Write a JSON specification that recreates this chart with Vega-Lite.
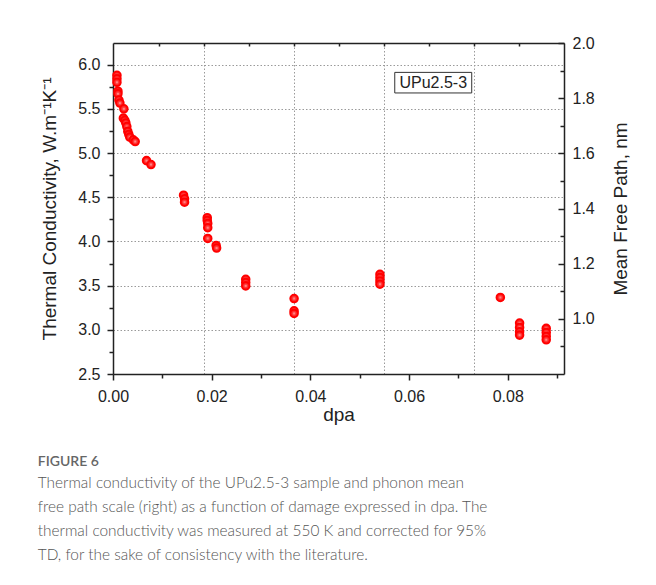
{
  "$schema": "https://vega.github.io/schema/vega-lite/v6.json",
  "width": 451,
  "height": 331,
  "autosize": {"type": "none"},
  "padding": {"left": 113, "top": 43, "right": 92, "bottom": 211},
  "background": "white",
  "config": {
    "view": {"stroke": null},
    "axis": {
      "labelFont": "Liberation Sans",
      "titleFont": "Liberation Sans",
      "labelFontSize": 16,
      "titleFontSize": 19,
      "labelColor": "#222",
      "titleColor": "#222",
      "titleFontWeight": "normal",
      "domainColor": "#222",
      "domainWidth": 1.5,
      "tickColor": "#222",
      "tickWidth": 1.5,
      "gridColor": "#9a9a9a",
      "gridDash": [1.5, 2],
      "gridWidth": 1,
      "labelOverlap": false,
      "labelBound": false,
      "labelFlush": false
    }
  },
  "title": {
    "text": "FIGURE 6",
    "subtitle": [
      "Thermal conductivity of the UPu2.5-3 sample and phonon mean",
      "free path scale (right) as a function of damage expressed in dpa. The",
      "thermal conductivity was measured at 550 K and corrected for 95%",
      "TD, for the sake of consistency with the literature."
    ],
    "orient": "bottom",
    "anchor": "start",
    "frame": "bounds",
    "font": "Lato",
    "fontSize": 14,
    "fontWeight": 600,
    "color": "#666",
    "subtitleFont": "Lato",
    "subtitleFontSize": 15.4,
    "subtitleFontWeight": 300,
    "subtitleColor": "#555",
    "subtitleLineHeight": 24,
    "subtitlePadding": 7,
    "offset": 31,
    "dx": -3
  },
  "layer": [
    {
      "data": {
        "values": [
          {"dpa": 0.0008, "k": 5.88}, {"dpa": 0.0008, "k": 5.84}, {"dpa": 0.0008, "k": 5.80},
          {"dpa": 0.0010, "k": 5.70}, {"dpa": 0.0010, "k": 5.67}, {"dpa": 0.0012, "k": 5.60},
          {"dpa": 0.0014, "k": 5.565}, {"dpa": 0.0022, "k": 5.50}, {"dpa": 0.0021, "k": 5.395},
          {"dpa": 0.0024, "k": 5.37}, {"dpa": 0.0026, "k": 5.34}, {"dpa": 0.0028, "k": 5.30},
          {"dpa": 0.0030, "k": 5.245}, {"dpa": 0.0032, "k": 5.21}, {"dpa": 0.0034, "k": 5.18},
          {"dpa": 0.0041, "k": 5.15}, {"dpa": 0.0045, "k": 5.13},
          {"dpa": 0.0068, "k": 4.914}, {"dpa": 0.0077, "k": 4.87},
          {"dpa": 0.0143, "k": 4.523}, {"dpa": 0.0145, "k": 4.482}, {"dpa": 0.0145, "k": 4.444},
          {"dpa": 0.0191, "k": 4.268}, {"dpa": 0.0191, "k": 4.237}, {"dpa": 0.0192, "k": 4.203},
          {"dpa": 0.0192, "k": 4.155}, {"dpa": 0.0192, "k": 4.034},
          {"dpa": 0.0209, "k": 3.955}, {"dpa": 0.0210, "k": 3.925},
          {"dpa": 0.0269, "k": 3.572}, {"dpa": 0.0269, "k": 3.535}, {"dpa": 0.0269, "k": 3.497},
          {"dpa": 0.0367, "k": 3.354}, {"dpa": 0.0367, "k": 3.214}, {"dpa": 0.0367, "k": 3.185},
          {"dpa": 0.0541, "k": 3.628}, {"dpa": 0.0541, "k": 3.591}, {"dpa": 0.0541, "k": 3.553}, {"dpa": 0.0541, "k": 3.516},
          {"dpa": 0.0785, "k": 3.366},
          {"dpa": 0.0824, "k": 3.076}, {"dpa": 0.0824, "k": 3.027}, {"dpa": 0.0824, "k": 2.978}, {"dpa": 0.0824, "k": 2.94},
          {"dpa": 0.0878, "k": 3.016}, {"dpa": 0.0878, "k": 2.97}, {"dpa": 0.0878, "k": 2.926}, {"dpa": 0.0878, "k": 2.887}
        ]
      },
      "mark": {
        "type": "point",
        "shape": "circle",
        "filled": true,
        "size": 60,
        "opacity": 1,
        "strokeWidth": 1.8,
        "stroke": "#ff0000",
        "fill": {
          "gradient": "radial",
          "x1": 0.5, "y1": 0.5, "x2": 0.5, "y2": 0.5, "r1": 0, "r2": 0.5,
          "stops": [
            {"offset": 0, "color": "#ffd6d6"},
            {"offset": 0.3, "color": "#ff4a4a"},
            {"offset": 1, "color": "#ff0000"}
          ]
        }
      },
      "encoding": {
        "x": {
          "field": "dpa",
          "type": "quantitative",
          "scale": {"domain": [0, 0.0914], "nice": false, "zero": false},
          "axis": {
            "orient": "bottom",
            "values": [0, 0.01, 0.02, 0.03, 0.04, 0.05, 0.06, 0.07, 0.08, 0.09],
            "grid": false,
            "tickSize": {"condition": {"test": "round(datum.value*100)%2==0", "value": 6}, "value": 4},
            "labelExpr": "round(datum.value*100)%2==0 ? format(datum.value, '.2f') : ''",
            "labelPadding": 8,
            "title": "dpa",
            "titlePadding": 1
          }
        },
        "y": {
          "field": "k",
          "type": "quantitative",
          "scale": {"domain": [2.5, 6.245], "nice": false, "zero": false},
          "axis": {
            "orient": "left",
            "values": [2.5, 2.75, 3.0, 3.25, 3.5, 3.75, 4.0, 4.25, 4.5, 4.75, 5.0, 5.25, 5.5, 5.75, 6.0],
            "grid": true,
            "gridOpacity": {"condition": {"test": "round(datum.value*4)%2==0", "value": 1}, "value": 0},
            "tickSize": {"condition": {"test": "round(datum.value*4)%2==0", "value": 6}, "value": 4},
            "labelExpr": "round(datum.value*4)%2==0 ? format(datum.value, '.1f') : ''",
            "labelPadding": 7,
            "title": "Thermal Conductivity, W.m⁻¹K⁻¹",
            "titlePadding": 18
          }
        }
      }
    },
    {
      "data": {
        "values": [
          {"x1": 0.0571, "x2": 0.0727, "y1": 1.8189, "y2": 1.8935, "xm": 0.0649, "ym": 1.856, "label": "UPu2.5-3"}
        ]
      },
      "layer": [
        {
          "mark": {"type": "rect", "fill": "white", "stroke": "#333", "strokeWidth": 1},
          "encoding": {
            "x": {
              "field": "x1",
              "type": "quantitative",
              "scale": {"domain": [0, 0.0914], "nice": false, "zero": false},
              "axis": {
                "orient": "top",
                "values": [0.00938, 0.01849, 0.0276, 0.03672, 0.04583, 0.05495, 0.06406, 0.07317, 0.08228],
                "labels": false,
                "title": null,
                "tickSize": -3,
                "grid": true,
                "gridOpacity": {"condition": {"test": "round(datum.index*8)%2==1", "value": 1}, "value": 0}
              }
            },
            "x2": {"field": "x2"},
            "y": {
              "field": "y1",
              "type": "quantitative",
              "scale": {"domain": [0.8, 2.0], "nice": false, "zero": false},
              "axis": {
                "orient": "right",
                "values": [1.0, 1.2, 1.4, 1.6, 1.8, 2.0],
                "grid": false,
                "ticks": false,
                "format": ".1f",
                "labelPadding": 8,
                "title": "Mean Free Path, nm",
                "titleAngle": 270,
                "titlePadding": 36
              }
            },
            "y2": {"field": "y2"}
          }
        },
        {
          "mark": {"type": "text", "font": "Liberation Sans", "fontSize": 16, "color": "#222"},
          "encoding": {
            "x": {"field": "xm", "type": "quantitative"},
            "y": {"field": "ym", "type": "quantitative"},
            "text": {"field": "label"}
          }
        }
      ]
    },
    {
      "data": {"values": [{"v": 1.0}]},
      "mark": {"type": "point", "opacity": 0},
      "encoding": {
        "y": {
          "field": "v",
          "type": "quantitative",
          "scale": {"domain": [0.8, 2.0], "nice": false, "zero": false},
          "axis": {
            "orient": "right",
            "values": [0.9, 1.0, 1.1, 1.2, 1.3, 1.4, 1.5, 1.6, 1.7, 1.8, 1.9, 2.0],
            "grid": false,
            "domain": false,
            "labels": false,
            "title": null,
            "tickSize": {"condition": {"test": "round(datum.value*10)%2==0", "value": -6}, "value": -4}
          }
        }
      }
    }
  ],
  "resolve": {"scale": {"y": "independent"}, "axis": {"x": "independent", "y": "independent"}}
}
